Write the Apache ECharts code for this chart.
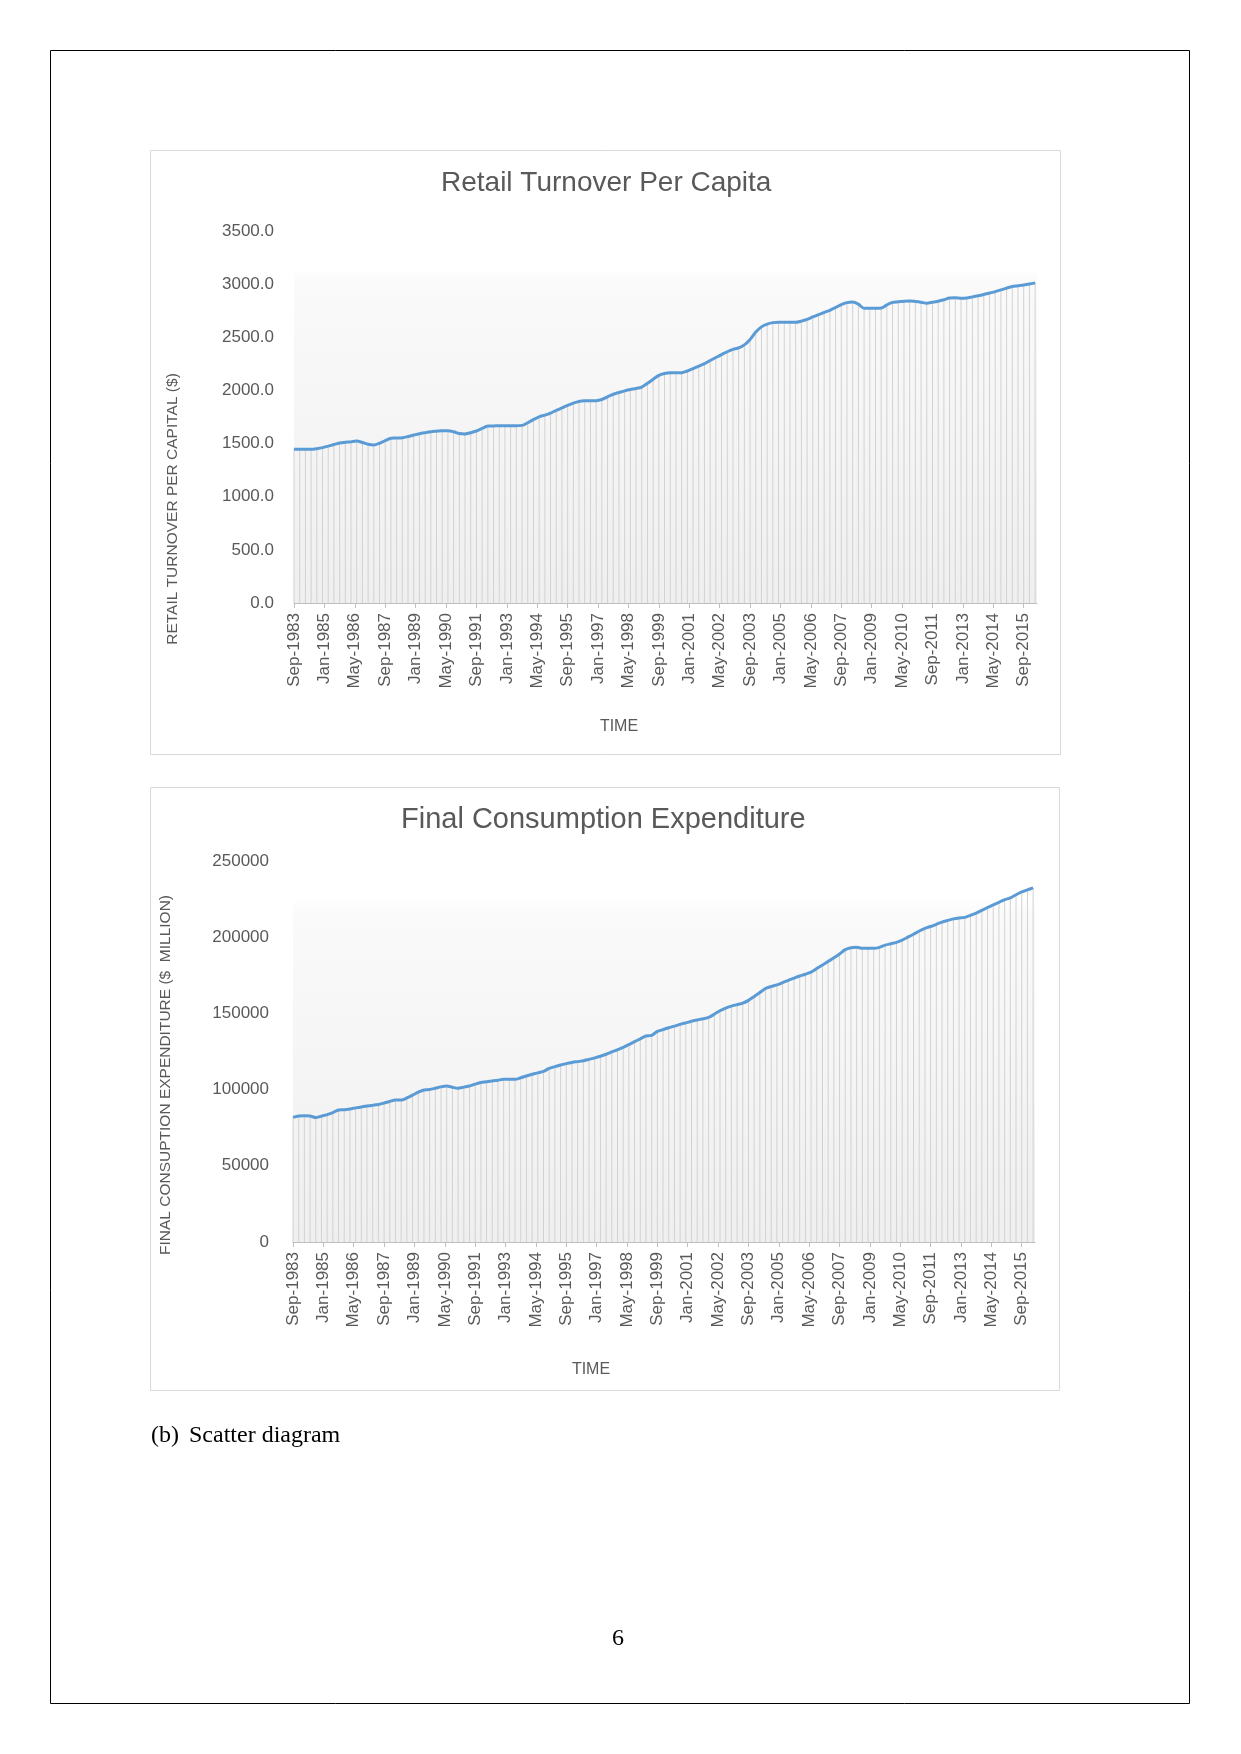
<!DOCTYPE html>
<html>
<head>
<meta charset="utf-8">
<script src="https://cdn.jsdelivr.net/npm/echarts@6/dist/echarts.min.js"></script>
<style>
html,body{margin:0;padding:0;background:#fff;}
#main{width:1241px;height:1754px;}
</style>
</head>
<body>
<div id="main"></div>
<script>
// Quarterly observations, Sep-1983 .. Mar-2016
const startYear = 1983, startMonthIdx = 8; // Sep
const monthNames = ['Jan','Feb','Mar','Apr','May','Jun','Jul','Aug','Sep','Oct','Nov','Dec'];

// Retail turnover per capita ($)
const retailTurnover = [
  1446,1446,1446,1446,1452,1462,1476,1491,1505,1512,1518,1524,1510,1494,1487,1503,
  1527,1550,1552,1555,1566,1580,1593,1603,1612,1616,1620,1621,1611,1594,1591,1602,
  1618,1642,1665,1666,1668,1668,1668,1668,1671,1696,1726,1752,1768,1787,1812,1835,
  1859,1880,1896,1902,1903,1904,1915,1939,1964,1980,1996,2009,2018,2032,2067,2105,
  2142,2160,2167,2167,2167,2183,2206,2229,2252,2282,2310,2337,2364,2386,2400,2429,
  2480,2549,2598,2624,2638,2641,2641,2641,2641,2652,2668,2691,2713,2734,2754,2780,
  2807,2826,2833,2812,2773,2773,2773,2775,2805,2828,2834,2840,2842,2837,2830,2821,
  2829,2839,2853,2870,2871,2868,2870,2880,2890,2902,2916,2930,2946,2963,2978,2985,
  2992,3001,3012
];

// Final consumption expenditure ($ million)
const consumptionExp = [
  81800,82700,82800,82650,81650,82600,83600,84900,86600,86800,87300,88000,88650,89200,89700,90250,
  91200,92200,93180,93180,94500,96350,98300,99790,100040,100900,101800,102300,101500,100870,101630,102370,
  103600,104650,105100,105600,106200,106740,106740,106740,107750,108950,110050,110960,112000,113900,115050,116170,
  117060,117800,118360,118900,119850,120800,121900,123200,124700,126160,127700,129570,131440,133300,135180,135600,
  138160,139400,140600,141650,142800,143800,144800,145650,146470,147350,149460,151720,153500,154770,155740,156740,
  158570,161100,163700,166330,167660,168670,170150,171680,173100,174530,175700,177120,179470,181800,184140,186440,
  188990,191830,193130,193450,192700,192700,192700,193300,194770,195730,196650,198110,200000,201940,204070,205780,
  207010,208440,209940,211030,212020,212650,213030,214360,215780,217630,219500,221180,222880,224610,225800,227880,
  229720,231070,232360
];

// x-axis tick labels (every 16 months)
const timeTickLabels = [
  'Sep-1983','Jan-1985','May-1986','Sep-1987','Jan-1989','May-1990','Sep-1991','Jan-1993',
  'May-1994','Sep-1995','Jan-1997','May-1998','Sep-1999','Jan-2001','May-2002','Sep-2003',
  'Jan-2005','May-2006','Sep-2007','Jan-2009','May-2010','Sep-2011','Jan-2013','May-2014','Sep-2015'
];
const retailTicks = [0,500,1000,1500,2000,2500,3000,3500];
const consTicks = [0,50000,100000,150000,200000,250000];

// Observation dates (months since Sep-1983, quarterly)
const obsMonths = retailTurnover.map((_, i) => i * 3);
const obsLabels = obsMonths.map(m => {
  const t = startMonthIdx + m;
  return monthNames[t % 12] + '-' + (startYear + Math.floor(t / 12));
});

const GREY = '#595959';
const FONT = 'Liberation Sans, Arial, sans-serif';

function pairs(vals){ return vals.map((v,i)=>[obsMonths[i], v, obsLabels[i]]); }

const chart = echarts.init(document.getElementById('main'), null, {renderer:'canvas'});

const plotBg = new echarts.graphic.LinearGradient(0,0,0,1,[
  {offset:0,color:'#ffffff'},{offset:0.10,color:'#ffffff'},
  {offset:0.14,color:'#fafafa'},{offset:1,color:'#efefef'}
]);

function xAxisCfg(gridIndex, nameGap, padR){
  return {
    type:'value', gridIndex, min:0, max:391, interval:16,
    axisLine:{show:true, lineStyle:{color:'#bfbfbf', width:1}},
    axisTick:{show:true, length:5, lineStyle:{color:'#bfbfbf'}},
    splitLine:{show:false},
    axisLabel:{
      rotate:90, margin:10, color:GREY, fontFamily:FONT, fontSize:17,
      showMaxLabel:false,
      formatter:(v)=>{ const k = Math.round(v/16); return timeTickLabels[k] || ''; }
    },
    name:'TIME', nameLocation:'middle', nameGap,
    nameTextStyle:{color:GREY, fontFamily:FONT, fontSize:16, padding:[0,padR,0,0]}
  };
}

const option = {
  animation:false,
  backgroundColor:'#ffffff',
  title:[
    {text:'Retail Turnover Per Capita', left:441, top:169, padding:0,
     textStyle:{color:GREY, fontFamily:FONT, fontSize:28, fontWeight:'normal'}},
    {text:'Final Consumption Expenditure', left:401, top:805, padding:0,
     textStyle:{color:GREY, fontFamily:FONT, fontSize:29, fontWeight:'normal'}}
  ],
  grid:[
    {left:294, top:231, width:743, height:372, show:true, backgroundColor:plotBg, borderWidth:0},
    {left:293, top:861, width:742, height:381, show:true, backgroundColor:plotBg, borderWidth:0}
  ],
  xAxis:[ xAxisCfg(0, 116, 93), xAxisCfg(1, 120, 146) ],
  yAxis:[
    {type:'value', gridIndex:0, min:retailTicks[0], max:retailTicks[retailTicks.length-1], interval:500,
     axisLine:{show:false}, axisTick:{show:false}, splitLine:{show:false},
     axisLabel:{color:GREY, fontFamily:FONT, fontSize:17, margin:20, formatter:v=>v.toFixed(1)},
     name:'RETAIL TURNOVER PER CAPITAL ($)', nameLocation:'middle', nameGap:113,
     nameTextStyle:{color:GREY, fontFamily:FONT, fontSize:15.5, padding:[0,184,0,0]}},
    {type:'value', gridIndex:1, min:consTicks[0], max:consTicks[consTicks.length-1], interval:50000,
     axisLine:{show:false}, axisTick:{show:false}, splitLine:{show:false},
     axisLabel:{color:GREY, fontFamily:FONT, fontSize:17, margin:24, formatter:v=>String(v)},
     name:'FINAL CONSUPTION EXPENDITURE ($  MILLION)', nameLocation:'middle', nameGap:119,
     nameTextStyle:{color:GREY, fontFamily:FONT, fontSize:15.5, padding:[0,47,0,0]}}
  ],
  series:[
    {type:'bar', xAxisIndex:0, yAxisIndex:0, barWidth:1, data:pairs(retailTurnover),
     itemStyle:{color:'#d2d2d2'}, silent:true, z:1},
    {type:'line', xAxisIndex:0, yAxisIndex:0, data:pairs(retailTurnover), smooth:0.3,
     showSymbol:false, lineStyle:{color:'#5b9bd5', width:3}, z:3},
    {type:'bar', xAxisIndex:1, yAxisIndex:1, barWidth:1, data:pairs(consumptionExp),
     itemStyle:{color:'#d2d2d2'}, silent:true, z:1},
    {type:'line', xAxisIndex:1, yAxisIndex:1, data:pairs(consumptionExp), smooth:0.3,
     showSymbol:false, lineStyle:{color:'#5b9bd5', width:3}, z:3}
  ],
  graphic:[
    {type:'rect', shape:{x:50.5,y:50.5,width:1139,height:1653}, style:{fill:null, stroke:'#000', lineWidth:1}, silent:true, z:-10},
    {type:'rect', shape:{x:150.5,y:150.5,width:910,height:604}, style:{fill:null, stroke:'#d9d9d9', lineWidth:1}, silent:true, z:-5},
    {type:'rect', shape:{x:150.5,y:787.5,width:909,height:603}, style:{fill:null, stroke:'#d9d9d9', lineWidth:1}, silent:true, z:-5},
    {type:'text', left:151, top:1424, style:{text:'(b)', fill:'#000', font:'24px "Liberation Serif", "Times New Roman", serif'}},
    {type:'text', left:189, top:1424, style:{text:'Scatter diagram', fill:'#000', font:'24px "Liberation Serif", "Times New Roman", serif'}},
    {type:'text', left:612, top:1627, style:{text:'6', fill:'#000', font:'24px "Liberation Serif", "Times New Roman", serif'}}
  ]
};
chart.setOption(option);
</script>
</body>
</html>
